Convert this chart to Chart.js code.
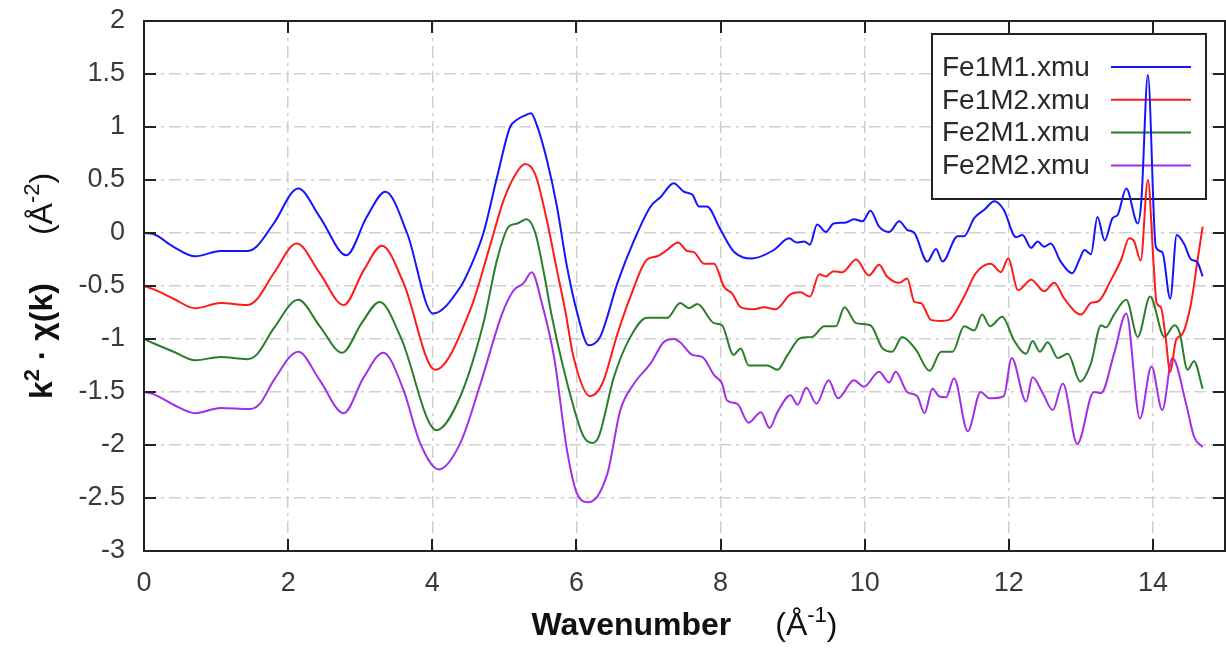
<!DOCTYPE html>
<html>
<head>
<meta charset="utf-8">
<script src="https://cdn.jsdelivr.net/npm/chart.js@4.4.1/dist/chart.umd.min.js"></script>
<style>
  body { margin: 0; background: #fff; }
  #wrap { width: 1226px; height: 664px; }
</style>
</head>
<body>
<div id="wrap"><canvas id="exafs-chart" width="1226" height="664"></canvas></div>
<script>
// k values (Å^-1) and k^2 chi(k), one pair of arrays per file
const seriesNames = ['Fe1M1.xmu', 'Fe1M2.xmu', 'Fe2M1.xmu', 'Fe2M2.xmu'];
const seriesColors = ['#1414ff', '#ff1a1a', '#2a7d2a', '#a22ee6'];

const kFe1M1 = [0, 0.13, 0.41, 0.71, 1.06, 1.43, 1.56, 1.80, 2.14, 2.44, 2.81, 3.09, 3.35, 3.65, 4.01, 4.39, 4.53, 4.71, 4.90, 5.08, 5.18, 5.29, 5.37, 5.45, 5.59, 5.73, 5.87, 6.01, 6.17, 6.33, 6.57, 6.80, 7.03, 7.17, 7.35, 7.49, 7.61, 7.70, 7.81, 8.00, 8.19, 8.44, 8.74, 8.95, 9.06, 9.16, 9.24, 9.34, 9.46, 9.57, 9.74, 9.85, 9.97, 10.08, 10.20, 10.34, 10.48, 10.59, 10.69, 10.87, 10.99, 11.08, 11.29, 11.38, 11.52, 11.66, 11.80, 11.93, 12.10, 12.19, 12.31, 12.40, 12.49, 12.58, 12.72, 12.88, 12.98, 13.05, 13.14, 13.23, 13.33, 13.44, 13.51, 13.63, 13.79, 13.84, 13.93, 14.04, 14.13, 14.24, 14.33, 14.43, 14.53, 14.61, 14.69];
const chiFe1M1 = [0, -0.01, -0.13, -0.22, -0.17, -0.17, -0.13, 0.09, 0.42, 0.15, -0.21, 0.15, 0.39, 0.00, -0.76, -0.51, -0.32, 0.00, 0.53, 1.00, 1.07, 1.11, 1.13, 1.02, 0.69, 0.25, -0.32, -0.75, -1.06, -0.98, -0.47, -0.07, 0.25, 0.34, 0.47, 0.39, 0.36, 0.25, 0.25, 0.03, -0.18, -0.24, -0.16, -0.05, -0.09, -0.08, -0.11, 0.08, 0.01, 0.09, 0.10, 0.13, 0.11, 0.21, 0.06, 0.01, 0.11, 0.03, 0.00, -0.27, -0.15, -0.27, -0.03, -0.03, 0.14, 0.22, 0.30, 0.22, -0.04, -0.02, -0.14, -0.08, -0.13, -0.10, -0.27, -0.38, -0.25, -0.16, -0.20, 0.15, -0.07, 0.14, 0.17, 0.42, 0.09, 0.31, 1.49, -0.13, -0.18, -0.62, -0.02, -0.10, -0.25, -0.27, -0.41];

const kFe1M2 = [0, 0.13, 0.41, 0.71, 1.06, 1.43, 1.56, 1.80, 2.12, 2.44, 2.77, 3.05, 3.30, 3.60, 4.04, 4.53, 4.81, 4.99, 5.18, 5.29, 5.43, 5.59, 5.73, 5.85, 5.96, 6.19, 6.36, 6.57, 6.75, 6.98, 7.12, 7.26, 7.41, 7.54, 7.63, 7.77, 7.91, 8.05, 8.16, 8.28, 8.46, 8.60, 8.76, 8.97, 9.11, 9.24, 9.37, 9.46, 9.57, 9.69, 9.88, 10.06, 10.20, 10.31, 10.48, 10.59, 10.69, 10.78, 10.92, 11.06, 11.17, 11.38, 11.54, 11.75, 11.89, 11.99, 12.13, 12.31, 12.49, 12.63, 12.77, 13.00, 13.14, 13.25, 13.42, 13.56, 13.67, 13.74, 13.83, 13.93, 14.01, 14.05, 14.11, 14.17, 14.24, 14.32, 14.41, 14.53, 14.62, 14.69];
const chiFe1M2 = [-0.50, -0.53, -0.62, -0.71, -0.66, -0.68, -0.63, -0.38, -0.10, -0.38, -0.68, -0.35, -0.12, -0.47, -1.29, -0.72, -0.10, 0.31, 0.58, 0.65, 0.55, 0.12, -0.35, -0.75, -1.17, -1.54, -1.42, -0.95, -0.60, -0.25, -0.22, -0.16, -0.09, -0.17, -0.18, -0.29, -0.29, -0.51, -0.57, -0.70, -0.72, -0.70, -0.72, -0.58, -0.56, -0.60, -0.39, -0.41, -0.36, -0.37, -0.25, -0.40, -0.30, -0.41, -0.47, -0.43, -0.65, -0.66, -0.82, -0.83, -0.82, -0.60, -0.38, -0.29, -0.37, -0.24, -0.54, -0.44, -0.55, -0.47, -0.62, -0.77, -0.66, -0.64, -0.44, -0.25, -0.05, -0.08, -0.26, 0.50, -0.30, -0.66, -0.70, -0.95, -1.31, -1.01, -0.95, -0.66, -0.25, 0.06];

const kFe2M1 = [0, 0.13, 0.41, 0.71, 1.06, 1.43, 1.56, 1.80, 2.14, 2.44, 2.75, 3.02, 3.27, 3.56, 4.06, 4.39, 4.71, 4.90, 5.06, 5.18, 5.31, 5.43, 5.55, 5.66, 5.96, 6.10, 6.22, 6.31, 6.52, 6.75, 6.98, 7.26, 7.44, 7.56, 7.68, 7.91, 8.02, 8.18, 8.28, 8.39, 8.65, 8.79, 8.93, 9.11, 9.27, 9.44, 9.60, 9.72, 9.88, 10.08, 10.25, 10.38, 10.52, 10.71, 10.90, 11.06, 11.22, 11.38, 11.52, 11.63, 11.74, 11.91, 12.07, 12.24, 12.33, 12.43, 12.54, 12.68, 12.82, 12.99, 13.14, 13.28, 13.35, 13.46, 13.63, 13.79, 13.96, 14.16, 14.30, 14.37, 14.48, 14.57, 14.69];
const chiFe2M1 = [-1.00, -1.04, -1.12, -1.20, -1.17, -1.19, -1.15, -0.90, -0.63, -0.88, -1.13, -0.85, -0.65, -0.98, -1.86, -1.54, -0.85, -0.25, 0.06, 0.09, 0.13, 0.00, -0.38, -0.79, -1.64, -1.92, -1.98, -1.92, -1.36, -0.98, -0.80, -0.80, -0.66, -0.71, -0.67, -0.85, -0.87, -1.15, -1.09, -1.25, -1.25, -1.29, -1.15, -0.99, -0.98, -0.88, -0.88, -0.70, -0.85, -0.87, -1.09, -1.12, -0.98, -1.10, -1.30, -1.12, -1.12, -0.88, -0.92, -0.77, -0.88, -0.79, -1.01, -1.14, -1.02, -1.12, -1.03, -1.18, -1.14, -1.40, -1.23, -0.87, -0.89, -0.77, -0.63, -0.98, -0.60, -0.98, -0.87, -0.94, -1.29, -1.21, -1.47];

const kFe2M2 = [0, 0.13, 0.41, 0.71, 1.06, 1.47, 1.61, 1.80, 2.14, 2.44, 2.77, 3.05, 3.32, 3.60, 3.83, 4.09, 4.39, 4.67, 4.97, 5.13, 5.27, 5.38, 5.52, 5.69, 5.87, 6.01, 6.17, 6.43, 6.61, 6.80, 7.03, 7.21, 7.35, 7.44, 7.61, 7.75, 7.91, 8.02, 8.09, 8.23, 8.39, 8.56, 8.68, 8.79, 8.97, 9.07, 9.19, 9.33, 9.50, 9.63, 9.85, 9.99, 10.20, 10.34, 10.43, 10.59, 10.73, 10.83, 10.94, 11.03, 11.13, 11.24, 11.43, 11.61, 11.73, 11.93, 12.04, 12.24, 12.33, 12.47, 12.61, 12.75, 12.95, 13.18, 13.28, 13.46, 13.63, 13.82, 13.98, 14.13, 14.27, 14.46, 14.57, 14.69];
const chiFe2M2 = [-1.50, -1.52, -1.62, -1.70, -1.65, -1.66, -1.61, -1.39, -1.12, -1.39, -1.70, -1.36, -1.13, -1.48, -1.98, -2.23, -1.98, -1.42, -0.76, -0.54, -0.47, -0.37, -0.66, -1.17, -2.05, -2.46, -2.54, -2.27, -1.67, -1.42, -1.23, -1.03, -1.00, -1.03, -1.15, -1.17, -1.34, -1.42, -1.58, -1.61, -1.79, -1.69, -1.84, -1.69, -1.53, -1.62, -1.46, -1.61, -1.39, -1.56, -1.39, -1.45, -1.31, -1.41, -1.31, -1.50, -1.54, -1.70, -1.47, -1.54, -1.55, -1.37, -1.87, -1.50, -1.56, -1.54, -1.18, -1.59, -1.36, -1.51, -1.67, -1.42, -1.99, -1.50, -1.51, -1.14, -0.76, -1.75, -1.26, -1.67, -1.18, -1.61, -1.92, -2.02];

const xTicks = [0, 2, 4, 6, 8, 10, 12, 14];
const yTicks = [-3, -2.5, -2, -1.5, -1, -0.5, 0, 0.5, 1, 1.5, 2];

const kArrays = [kFe1M1, kFe1M2, kFe2M1, kFe2M2];
const chiArrays = [chiFe1M1, chiFe1M2, chiFe2M1, chiFe2M2];

const FONT = '"Liberation Sans", Arial, sans-serif';

function toPoints(ks, vals) {
    return ks.map((k, i) => ({ x: k, y: vals[i] }));
}

const datasets = seriesNames.map((name, i) => ({
    label: name,
    data: toPoints(kArrays[i], chiArrays[i]),
    borderColor: seriesColors[i],
    backgroundColor: seriesColors[i],
    borderWidth: 2,
    pointRadius: 0,
    cubicInterpolationMode: 'monotone',
    fill: false
}));

// gnuplot-like frame, inward ticks on all four sides, key box and axis titles
const framePlugin = {
    id: 'frame',
    beforeDatasetsDraw(chart) {
        const ctx = chart.ctx;
        const a = chart.chartArea;
        const boxL = a.right - 293, boxT = a.top + 13, boxW = 274, boxH = 165;
        ctx.save();
        ctx.fillStyle = '#fff';
        ctx.fillRect(boxL, boxT, boxW, boxH);
        ctx.strokeStyle = '#222';
        ctx.lineWidth = 2;
        ctx.strokeRect(boxL, boxT, boxW, boxH);
        ctx.font = '28px ' + FONT;
        ctx.textBaseline = 'middle';
        ctx.fillStyle = '#2a2a2a';
        chart.data.datasets.forEach((ds, i) => {
            const yy = boxT + 33 + i * 32.8;
            ctx.fillText(ds.label, boxL + 10, yy + 1);
            ctx.strokeStyle = ds.borderColor;
            ctx.beginPath();
            ctx.moveTo(boxL + 179, yy);
            ctx.lineTo(boxL + 259, yy);
            ctx.stroke();
        });
        ctx.restore();
    },
    afterDraw(chart) {
        const ctx = chart.ctx;
        const a = chart.chartArea;
        const xs = chart.scales.x, ys = chart.scales.y;
        ctx.save();
        ctx.strokeStyle = '#222';
        ctx.lineWidth = 2;
        ctx.beginPath();
        xTicks.forEach(v => {
            const px = Math.round(xs.getPixelForValue(v));
            ctx.moveTo(px, a.bottom); ctx.lineTo(px, a.bottom - 12);
            ctx.moveTo(px, a.top); ctx.lineTo(px, a.top + 12);
        });
        yTicks.forEach(v => {
            const py = Math.round(ys.getPixelForValue(v));
            ctx.moveTo(a.left, py); ctx.lineTo(a.left + 12, py);
            ctx.moveTo(a.right, py); ctx.lineTo(a.right - 12, py);
        });
        ctx.stroke();
        ctx.strokeRect(a.left, a.top, a.right - a.left, a.bottom - a.top);

        // x title
        ctx.fillStyle = '#111';
        ctx.textBaseline = 'alphabetic';
        const bold = 'bold 32px ' + FONT, norm = '32px ' + FONT, sup = '22px ' + FONT;
        const parts = [
            { t: 'Wavenumber', f: bold, dy: 0 },
            { gap: 44 },
            { t: '(Å', f: norm, dy: 0 },
            { t: '-1', f: sup, dy: -13 },
            { t: ')', f: norm, dy: 0 }
        ];
        drawParts(ctx, parts, (a.left + a.right) / 2, 635);

        // y title, rotated
        ctx.translate(52, (a.top + a.bottom) / 2);
        ctx.rotate(-Math.PI / 2);
        const yparts = [
            { t: 'k', f: bold, dy: 0 },
            { t: '2', f: 'bold 22px ' + FONT, dy: -13 },
            { t: ' · χ(k)', f: bold, dy: 0 },
            { gap: 48 },
            { t: '(Å', f: norm, dy: 0 },
            { t: '-2', f: sup, dy: -13 },
            { t: ')', f: norm, dy: 0 }
        ];
        drawParts(ctx, yparts, 0, 0);
        ctx.restore();
    }
};

function drawParts(ctx, parts, cx, baseY) {
    let total = 0;
    parts.forEach(p => {
        if (p.gap) { total += p.gap; return; }
        ctx.font = p.f;
        p.w = ctx.measureText(p.t).width;
        total += p.w;
    });
    let x = cx - total / 2;
    ctx.textAlign = 'left';
    parts.forEach(p => {
        if (p.gap) { x += p.gap; return; }
        ctx.font = p.f;
        ctx.fillText(p.t, x, baseY + p.dy);
        x += p.w;
    });
}

const gridDash = [12, 5, 3, 5];

new Chart(document.getElementById('exafs-chart'), {
    type: 'line',
    data: { datasets: datasets },
    options: {
        responsive: false,
        animation: false,
        layout: { padding: { top: 21, right: 1, left: 0, bottom: 0 } },
        plugins: {
            legend: { display: false },
            tooltip: { enabled: false }
        },
        scales: {
            x: {
                type: 'linear',
                min: 0,
                max: 15,
                afterBuildTicks: scale => {
                    scale.ticks = xTicks.map(v => ({ value: v }));
                },
                afterFit: scale => {
                    scale.height = 113;
                    scale.paddingLeft = 0;
                    scale.paddingRight = 0;
                },
                ticks: {
                    color: '#3a3a3a',
                    font: { family: FONT, size: 27 },
                    padding: 16,
                    maxRotation: 0,
                    autoSkip: false,
                    callback: v => String(v)
                },
                grid: { color: '#cfcfcf', lineWidth: 1.5, drawTicks: false },
                border: { display: false, dash: gridDash }
            },
            y: {
                type: 'linear',
                min: -3,
                max: 2,
                afterBuildTicks: scale => {
                    scale.ticks = yTicks.map(v => ({ value: v }));
                },
                afterFit: scale => {
                    scale.width = 144;
                    scale.paddingTop = 0;
                    scale.paddingBottom = 0;
                },
                ticks: {
                    color: '#3a3a3a',
                    font: { family: FONT, size: 27 },
                    padding: 19,
                    autoSkip: false,
                    callback: v => String(v)
                },
                grid: { color: '#cfcfcf', lineWidth: 1.5, drawTicks: false },
                border: { display: false, dash: gridDash }
            }
        }
    },
    plugins: [framePlugin]
});
</script>
</body>
</html>
